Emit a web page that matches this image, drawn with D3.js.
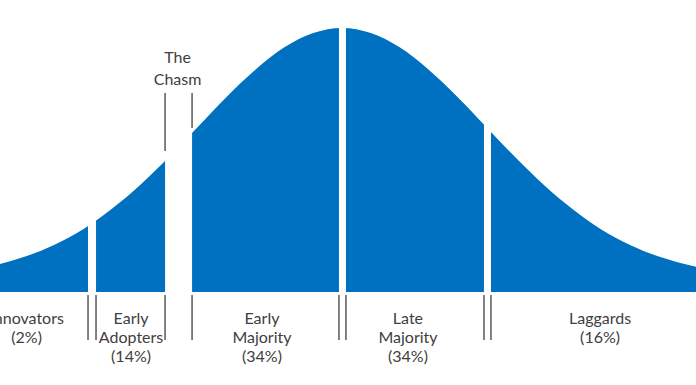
<!DOCTYPE html>
<html>
<head>
<meta charset="utf-8">
<script src="https://cdn.jsdelivr.net/npm/d3@7"></script>
<style>
  body { margin: 0; background: #fff; }
  svg text { font-family: Lato, "Open Sans", sans-serif; fill: #404040; }
</style>
</head>
<body>
<svg id="chart" width="696" height="385"></svg>
<script>
// curve: position in std devs from the mean, height as % of the peak
const curveZ = [-2.6, -2.4, -2.2, -2.0, -1.8, -1.6, -1.4, -1.2, -1.0, -0.8, -0.6, -0.4, -0.2, 0,
                0.2, 0.4, 0.6, 0.8, 1.0, 1.2, 1.4, 1.6, 1.8, 2.0, 2.2, 2.4, 2.6]
const curveHeight = [8.2, 10.3, 13.4, 17.8, 23.7, 31.4, 40.6, 51.2, 62.6, 74.0, 84.3, 92.7, 98.1, 100,
                     98.1, 92.7, 84.3, 74.0, 62.6, 51.2, 40.6, 31.4, 23.7, 17.8, 13.4, 10.3, 8.2]

const segments = ['Innovators', 'Early Adopters', 'Early Majority', 'Late Majority', 'Laggards']
const shares = [2, 14, 34, 34, 16]
// where one group ends and the next begins (std devs)
const boundaries = [-1.736, -1.135, 0.003, 1.010]
const chasmLabel = ['The', 'Chasm']

// layout
const width = 696, height = 385
const baseY = 292, topY = 28
const gapWidth = [8, 27, 7, 7]           // white cut at each boundary, px
const chasmIndex = 1
const labelAt = [-2.19, -1.465, -0.556, 0.458, 1.792]
const blue = '#0070C0', lineColor = '#595959'

const x = d3.scaleLinear().domain([-2.375, 2.458]).range([0, width])
const y = d3.scaleLinear().domain([0, 100]).range([baseY, topY])

const svg = d3.select('#chart')
const points = curveZ.map((z, i) => ({ z: z, h: curveHeight[i] }))

const area = d3.area()
    .x(d => x(d.z))
    .y0(baseY)
    .y1(d => y(d.h))
    .curve(d3.curveMonotoneX)

svg.append('path')
    .datum(points)
    .attr('fill', blue)
    .attr('d', area)

// hidden outline of the top edge, used to find the curve height at any x
const topLine = svg.append('path')
    .datum(points)
    .attr('fill', 'none')
    .attr('stroke', 'none')
    .attr('d', d3.line().x(d => x(d.z)).y(d => y(d.h)).curve(d3.curveMonotoneX))
    .node()

function curveYAt(px) {
    let lo = 0, hi = topLine.getTotalLength()
    for (let i = 0; i < 40; i++) {
        const mid = (lo + hi) / 2
        if (topLine.getPointAtLength(mid).x < px) lo = mid
        else hi = mid
    }
    return topLine.getPointAtLength(lo).y
}

// white cuts between the groups
const edges = boundaries.map((b, i) => [x(b) - gapWidth[i] / 2, x(b) + gapWidth[i] / 2])

svg.append('g')
    .selectAll('rect')
    .data(edges)
    .join('rect')
    .attr('x', d => d[0])
    .attr('y', 0)
    .attr('width', d => d[1] - d[0])
    .attr('height', baseY + 1)
    .attr('fill', '#fff')

// separator ticks below the curve
const tickXs = edges.flat()
svg.append('g')
    .selectAll('line')
    .data(tickXs)
    .join('line')
    .attr('x1', d => d).attr('x2', d => d)
    .attr('y1', 295).attr('y2', 340)
    .attr('stroke', lineColor)
    .attr('stroke-width', 1.5)

// group labels
const labels = svg.append('g')
    .selectAll('text')
    .data(segments)
    .join('text')
    .attr('text-anchor', 'middle')
    .attr('font-size', 16)

labels.each(function (name, i) {
    const lines = name.split(' ').concat(['(' + shares[i] + '%)'])
    d3.select(this).selectAll('tspan')
        .data(lines)
        .join('tspan')
        .attr('x', x(labelAt[i]))
        .attr('y', (d, j) => 323.5 + j * 19.2)
        .text(d => d)
})

// the chasm
const chasm = edges[chasmIndex]
svg.append('g')
    .selectAll('line')
    .data(chasm)
    .join('line')
    .attr('x1', d => d).attr('x2', d => d)
    .attr('y1', 93)
    .attr('y2', (d, i) => curveYAt(d) - (i === 0 ? 10 : 5))
    .attr('stroke', lineColor)
    .attr('stroke-width', 1.5)

svg.append('text')
    .attr('text-anchor', 'middle')
    .attr('font-size', 16)
    .selectAll('tspan')
    .data(chasmLabel)
    .join('tspan')
    .attr('x', (chasm[0] + chasm[1]) / 2 - 1)
    .attr('y', (d, i) => 63 + i * 22)
    .text(d => d)
</script>
</body>
</html>
